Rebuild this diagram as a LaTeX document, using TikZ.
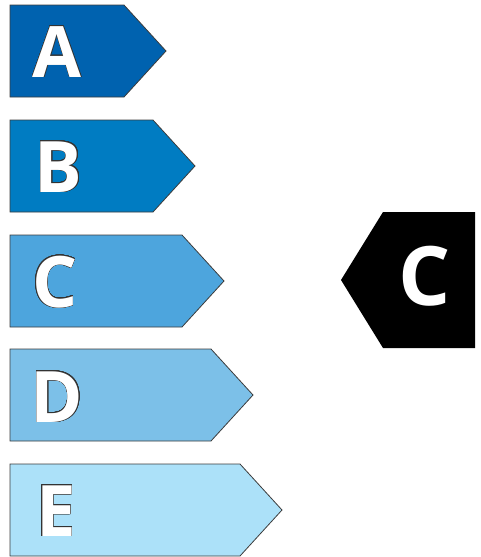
\documentclass[tikz,border=0pt]{standalone}
\usepackage{fontspec}
\setmainfont{Open Sans}
\usepackage{contour}
\contourlength{0.5pt}
\contournumber{24}
\definecolor{cA}{RGB}{0,98,175}
\definecolor{cB}{RGB}{0,124,194}
\definecolor{cC}{RGB}{77,165,221}
\definecolor{cD}{RGB}{124,192,232}
\definecolor{cE}{RGB}{172,225,249}
\definecolor{edge}{RGB}{60,60,60}
\begin{document}
\begin{tikzpicture}[x=1pt,y=-1pt,
  band/.style={draw=edge,line width=0.8pt,line join=miter},
  bandletter/.style={font=\bfseries\fontsize{71}{71}\selectfont,inner sep=0pt,anchor=center},
  mark letter/.style={font=\bfseries\fontsize{82}{82}\selectfont,text=white,inner sep=0pt,anchor=center}]
\useasboundingbox (0,0) rectangle (481,557);
\newcommand\bandshape[4]{% color, top y, straight end x, tip x
  \fill[#1] (10,#2) -- (#3,#2) -- (#4,#2+46) -- (#3,#2+92) -- (10,#2+92) -- cycle;
  \draw[band] (10,#2) -- (#3,#2) -- (#4,#2+46) -- (#3,#2+92) -- (10,#2+92) -- cycle;}
\bandshape{cA}{5}{124}{166}
\bandshape{cB}{120}{153}{195}
\bandshape{cC}{235}{182}{224}
\bandshape{cD}{349}{211}{253}
\bandshape{cE}{464}{240}{282}
\node[bandletter] (la) at (57,52) {\contour{black!80}{\textcolor{white}{A}}};
\node[bandletter] (lb) at (58.5,167) {\contour{black!80}{\textcolor{white}{B}}};
\node[bandletter] (lc) at (55,282) {\contour{black!80}{\textcolor{white}{C}}};
\node[bandletter] (ld) at (57,397) {\contour{black!80}{\textcolor{white}{D}}};
\node[bandletter] (le) at (56,511) {\contour{black!80}{\textcolor{white}{E}}};
\fill[black] (475,212) -- (383,212) -- (341,280) -- (383,348) -- (475,348) -- cycle;
\node[mark letter] (mc) at (425,276) {C};
\end{tikzpicture}
\end{document}
